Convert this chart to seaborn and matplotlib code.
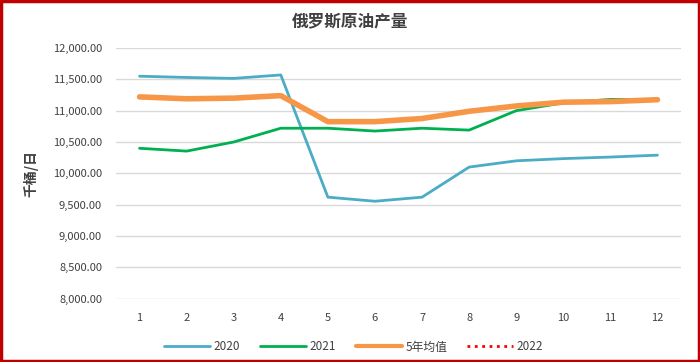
import matplotlib
matplotlib.use("Agg")
import matplotlib.pyplot as plt
import seaborn as sns
import pandas as pd
from matplotlib.patches import Rectangle
from matplotlib.lines import Line2D
from matplotlib.ticker import FuncFormatter

months = list(range(1, 13))
v2020 = [11550, 11530, 11515, 11570, 9620, 9555, 9620, 10100, 10200, 10235, 10260, 10290]
v2021 = [10400, 10355, 10500, 10720, 10720, 10675, 10720, 10690, 11000, 11125, 11180, 11175]
v5yr = [11220, 11190, 11200, 11240, 10825, 10825, 10875, 10990, 11075, 11135, 11145, 11175]
v2022 = []
series_names = ["2020", "2021", "5年均值", "2022"]
title = "俄罗斯原油产量"
ylabel = "千桶/日"

sns.set_theme(style="white")
plt.rcParams['font.family'] = ['Noto Sans CJK SC', 'DejaVu Sans']

rows = []
for name, vals in zip(series_names[:3], [v2020, v2021, v5yr]):
    for m, v in zip(months, vals):
        rows.append({"month": m, "value": v, "series": name})
df = pd.DataFrame(rows)

colors = {"2020": "#4bacc6", "2021": "#00b050", "5年均值": "#f79646"}
widths = {"2020": 2.0, "2021": 2.0, "5年均值": 4.0}

fig = plt.figure(figsize=(7, 3.62), dpi=100)
ax = fig.add_axes([116/700, 1-298.7/362, (681-116)/700, (298.7-48)/362])

for name in series_names[:3]:
    sub = df[df.series == name]
    sns.lineplot(data=sub, x="month", y="value", ax=ax, color=colors[name],
                 linewidth=widths[name], legend=False, solid_capstyle="round")
ax.plot(months[:len(v2022)], v2022, color="#ff0000", linestyle=":", linewidth=2)

ax.set_xlim(0.5, 12.5)
ax.set_ylim(8000, 12000)
ax.set_yticks(range(8000, 12001, 500))
ax.set_xticks(months)
ax.yaxis.set_major_formatter(FuncFormatter(lambda v, p: f"{v:,.2f}"))
ax.grid(axis="y", color="#d9d9d9", linewidth=1)
ax.set_axisbelow(True)
for s in ax.spines.values():
    s.set_visible(False)
ax.tick_params(axis="both", length=0, labelsize=8, colors="#404040")
ax.tick_params(axis="y", pad=10)
ax.tick_params(axis="x", pad=10)
ax.set_xlabel("")
ax.set_ylabel(ylabel, fontsize=10, color="#404040", fontweight="bold")
ax.yaxis.set_label_coords((38 - 116) / 565, 0.5)

fig.text(0.5, 1-22/362, title, ha="center", va="center", fontsize=12,
         fontweight="bold", color="#404040")

handles = [
    Line2D([], [], color=colors["2020"], linewidth=2.0),
    Line2D([], [], color=colors["2021"], linewidth=2.0),
    Line2D([], [], color=colors["5年均值"], linewidth=3.0),
    Line2D([], [], color="#ff0000", linestyle=":", linewidth=2.0),
]
fig.legend(handles, series_names, loc="center", bbox_to_anchor=(0.505, 1-347/362),
           ncol=4, frameon=False, fontsize=8.5, handlelength=3.9, columnspacing=1.7,
           handletextpad=0.3, labelcolor="#404040")

fig.patches.append(Rectangle((0.002, 0.004), 0.996, 0.992, transform=fig.transFigure,
                             fill=False, edgecolor="#c00000", linewidth=2.5, figure=fig))

fig.savefig("out.png", dpi=100, facecolor="white")
